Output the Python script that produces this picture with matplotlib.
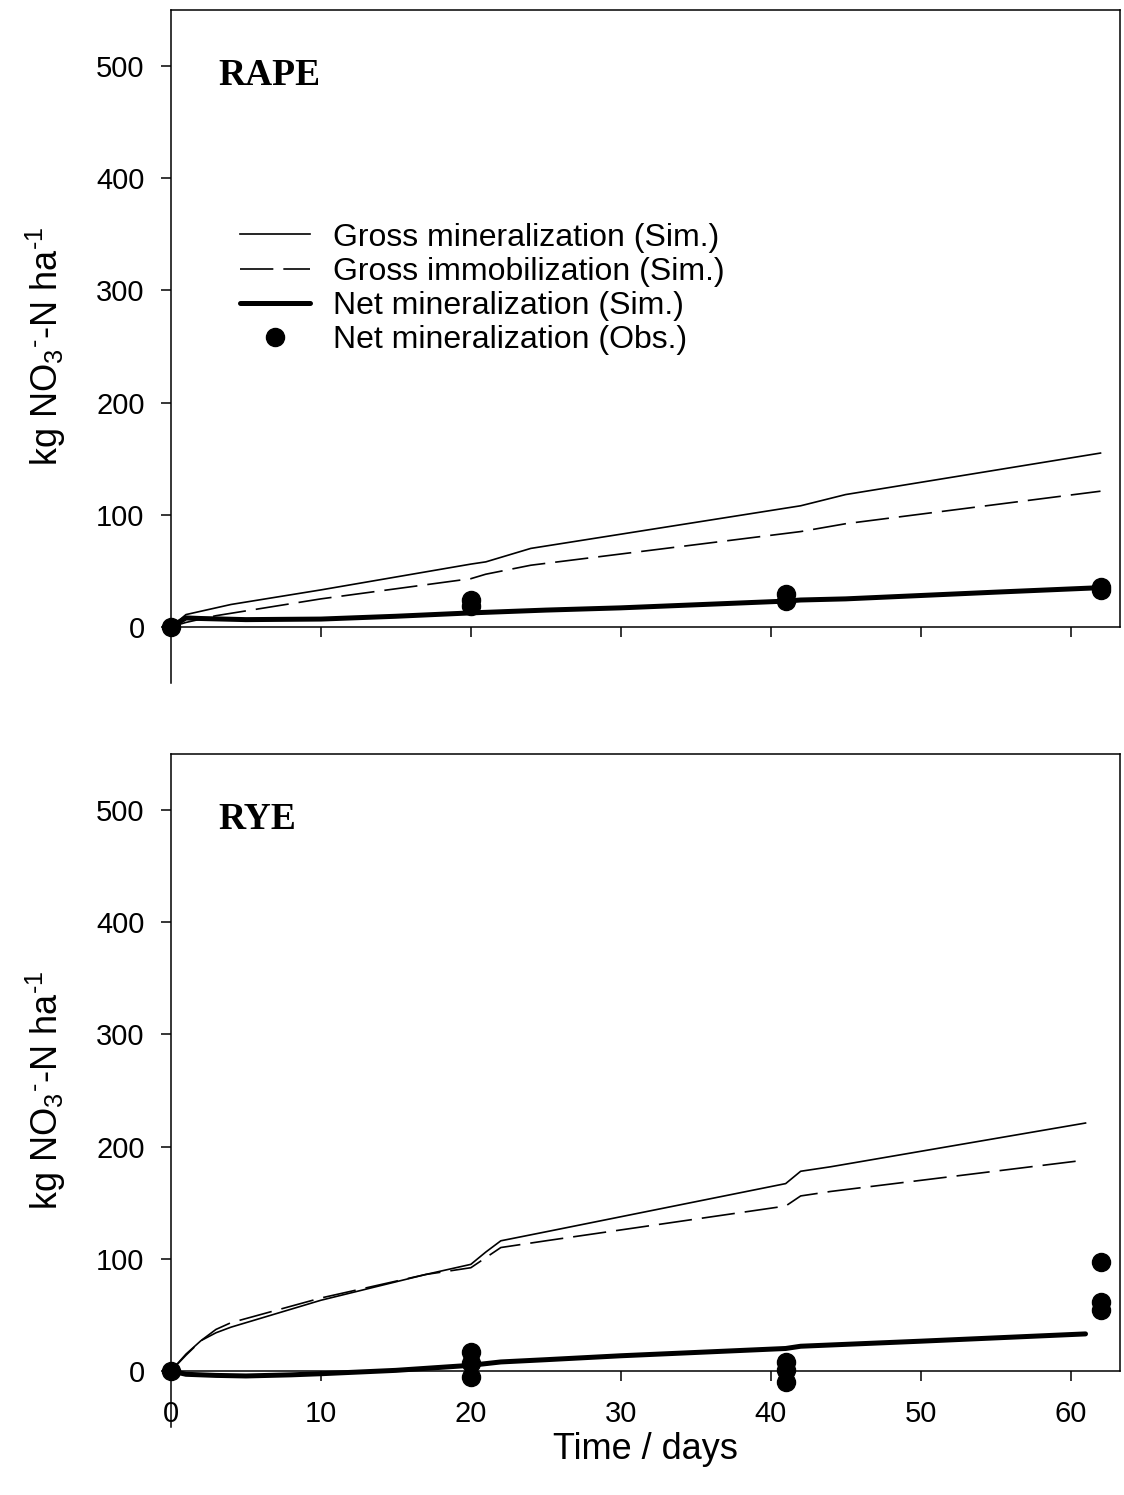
import matplotlib
matplotlib.use("Agg")
import matplotlib.pyplot as plt

plt.rcParams['font.family'] = ['Liberation Sans', 'DejaVu Sans']
plt.rcParams['mathtext.fontset'] = 'custom'
plt.rcParams['mathtext.rm'] = 'Liberation Sans'
plt.rcParams['mathtext.it'] = 'Liberation Sans:italic'
plt.rcParams['mathtext.bf'] = 'Liberation Sans:bold'

# ---------------- data ----------------
# RAPE panel
rape_min_days = [0, 1, 4, 10, 20, 21, 24, 42, 45, 62]
rape_min = [0, 11, 20, 33, 56, 58, 70, 108, 118, 155]
rape_imm_days = [0, 1, 3, 10, 20, 21, 24, 42, 45, 62]
rape_imm = [0, 4, 10, 25, 43, 47, 55, 85, 92, 121]
rape_net_days = [0, 1, 2, 5, 10, 15, 20, 25, 30, 41, 42, 45, 50, 55, 62]
rape_net = [0, 8, 7.5, 6.5, 7, 9.5, 12.5, 15, 17, 23, 24, 25, 28, 31, 35]
rape_obs_days = [0, 20, 20, 41, 41, 62, 62]
rape_obs = [0, 24, 19, 29, 23, 36, 33]

# RYE panel
rye_min_days = [0, 1, 2, 3, 4, 10, 17, 20, 21, 22, 25, 41, 42, 44, 61]
rye_min = [0, 15, 27, 34, 39, 63, 86, 95, 106, 116, 124, 167, 178, 182, 221]
rye_imm_days = [0, 1, 2, 3, 4, 10, 17, 20, 21, 22, 25, 41, 42, 44, 61]
rye_imm = [0, 14, 27, 37, 43, 65, 86, 92, 101, 110, 116, 147, 156, 160, 188]
rye_net_days = [0, 1, 3, 5, 8, 10, 15, 20, 22, 25, 30, 41, 42, 50, 61]
rye_net = [0, -3, -4, -4.5, -3.5, -2.5, 0.5, 5, 8, 10, 13.5, 20, 22, 26.5, 33]
rye_obs_days = [0, 20, 20, 20, 41, 41, 41, 62, 62, 62]
rye_obs = [0, 17, 7, -5, 8, 1, -10, 97, 61, 54]

panel_labels = ['RAPE', 'RYE']
legend_labels = ['Gross mineralization (Sim.)', 'Gross immobilization (Sim.)',
                 'Net mineralization (Sim.)', 'Net mineralization (Obs.)']
xticks = [0, 10, 20, 30, 40, 50, 60]
yticks = [0, 100, 200, 300, 400, 500]
ylabel_text = r'kg NO$_3$$^{\text{-}}$-N ha$^{\text{-}1}$'

# ---------------- figure ----------------
W, H = 1124, 1495
fig = plt.figure(figsize=(W / 100, H / 100), dpi=100)

def axes_rect(x0, x1, ytop, ybot):
    return [x0 / W, 1 - ybot / H, (x1 - x0) / W, (ybot - ytop) / H]

ax1 = fig.add_axes(axes_rect(171, 1120, 10, 683))
ax2 = fig.add_axes(axes_rect(171, 1120, 754, 1427))

panels = [
    (ax1, rape_min_days, rape_min, rape_imm_days, rape_imm, rape_net_days, rape_net, rape_obs_days, rape_obs),
    (ax2, rye_min_days, rye_min, rye_imm_days, rye_imm, rye_net_days, rye_net, rye_obs_days, rye_obs),
]

lw = 1.1
for i, (ax, md, mv, idd, iv, nd, nv, od, ov) in enumerate(panels):
    l1, = ax.plot(md, mv, color='black', lw=1.2, label=legend_labels[0])
    l2, = ax.plot(idd, iv, color='black', lw=1.2, dashes=(20, 6), label=legend_labels[1])
    l3, = ax.plot(nd, nv, color='black', lw=3.6, solid_capstyle='round', label=legend_labels[2])
    l4, = ax.plot(od, ov, 'o', color='black', ms=13, label=legend_labels[3], clip_on=False, zorder=5)

    ax.set_xlim(0, 63.3)
    ax.set_ylim(-50, 550)
    ax.set_xticks(xticks)
    ax.set_yticks(yticks)
    for s in ['left', 'right', 'top', 'bottom']:
        ax.spines[s].set_linewidth(lw)
        ax.spines[s].set_color('black')
    ax.spines['bottom'].set_position(('data', 0))
    ax.spines['right'].set_bounds(0, 550)
    ax.tick_params(axis='both', direction='out', length=7, width=lw, labelsize=21, colors='black')
    ax.tick_params(axis='y', pad=12)
    ax.tick_params(axis='x', pad=14)
    ax.set_ylabel(ylabel_text, fontsize=26, labelpad=20)
    ax.text(0.0495, 0.902, panel_labels[i], transform=ax.transAxes,
            fontsize=27, fontweight='bold', family='Liberation Serif',
            ha='left', va='center')
    if i == 0:
        ax.tick_params(axis='x', labelbottom=False)
        leg = ax.legend(handles=[l1, l2, l3, l4], loc='upper left',
                        bbox_to_anchor=(0.0727, 0.684), frameon=False,
                        fontsize=23, handlelength=2.2, handletextpad=0.7,
                        labelspacing=0.13, borderpad=0, borderaxespad=0,
                        numpoints=1)
    else:
        ax.set_xlabel('Time / days', fontsize=26, labelpad=3)

fig.savefig('out.png', dpi=100)
